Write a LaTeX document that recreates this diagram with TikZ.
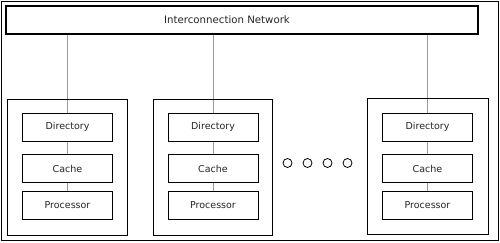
\documentclass[tikz,border=0pt]{standalone}
\usepackage{fontspec}
\setmainfont{DejaVu Sans}
\usetikzlibrary{backgrounds}
\begin{document}
\begin{tikzpicture}[x=1pt,y=-1pt,
  box/.style={draw=black,line width=0.9pt,rectangle,inner sep=0pt,fill=white},
  unitbox/.style={box,minimum height=28pt,minimum width=90pt,font=\fontsize{9.5}{11}\selectfont,text=black!85},
  nodebox/.style={draw=black,line width=0.9pt,rectangle,inner sep=0pt,minimum height=136pt},
  link/.style={draw=black!40,line width=0.8pt},
  dot/.style={draw=black,line width=0.8pt,circle,inner sep=0pt,minimum size=9pt}]
\useasboundingbox (0,0) rectangle (500,242);
\draw[line width=0.8pt] (1.5,1.5) rectangle (498,240);
\node[box,line width=1.1pt,minimum width=472pt,minimum height=28pt,
  label={[xshift=-15pt,font=\fontsize{10.2}{12}\selectfont,text=black!85]center:Interconnection Network}] (net) at (242,20) {};
% processing nodes
\node[nodebox,minimum width=120pt] (n1) at (67,167) {};
\node[nodebox,minimum width=119pt] (n2) at (212.5,167) {};
\node[nodebox,minimum width=121pt] (n3) at (427.5,166.5) {};
\foreach \i/\x in {1/67.5,2/213,3/427.5}{
  \node[unitbox] (d\i) at (\x,127) {Directory};
  \node[unitbox] (c\i) at (\x,168.5) {Cache};
  \node[unitbox] (p\i) at (\x,205.5) {Processor};
}
\begin{scope}[on background layer]
\foreach \i in {1,2,3}{
  \draw[link] (net.south -| d\i.north) -- (d\i.north);
  \draw[link] (d\i.south) -- (c\i.north);
  \draw[link] (c\i.south) -- (p\i.north);
}
\end{scope}
\node[dot] (o1) at (287.5,163) {};
\node[dot] (o2) at (307.5,163) {};
\node[dot] (o3) at (327.5,163) {};
\node[dot] (o4) at (347.5,163) {};
\end{tikzpicture}
\end{document}
